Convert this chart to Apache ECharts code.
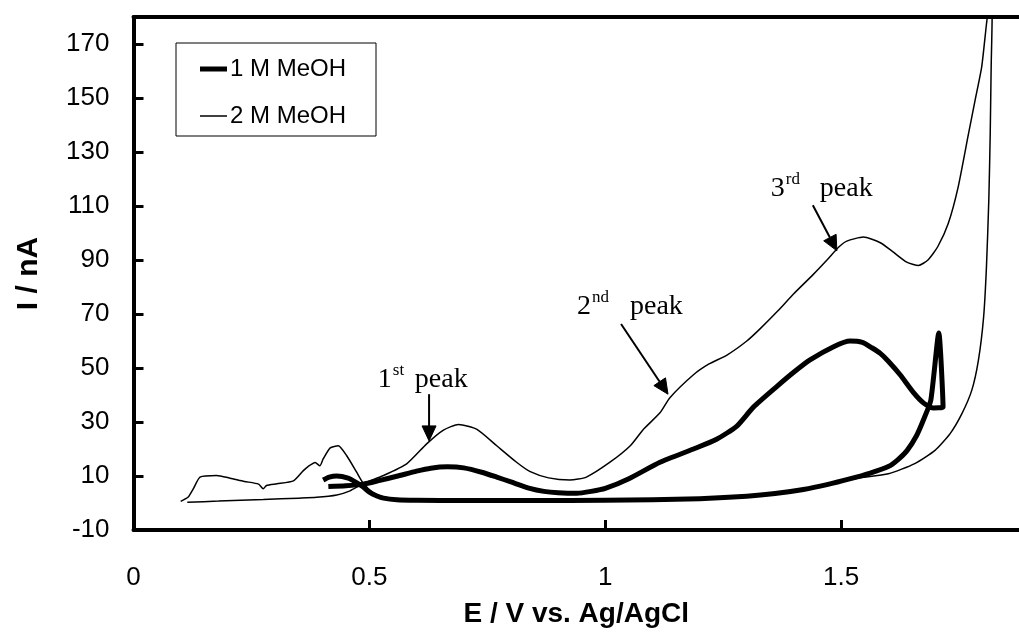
<!DOCTYPE html>
<html><head><meta charset="utf-8">
<script src="https://cdn.jsdelivr.net/npm/echarts@6/dist/echarts.min.js"></script>
<style>html,body{margin:0;padding:0;background:#fff}#c{width:1019px;height:633px}</style>
</head><body><div id="c"></div>
<script>
// ---- data ----
const xTicks = [0, 0.5, 1, 1.5];
const yTicks = [-10, 10, 30, 50, 70, 90, 110, 130, 150, 170];
const seriesNames = ['1 M MeOH', '2 M MeOH'];

// 1 M MeOH (thick)
const oneM_E = [0.413,0.45,0.487,0.52,0.558,0.60,0.63,0.665,0.70,0.74,0.77,0.80,0.84,0.87,0.90,0.94,0.97,1.0,1.05,1.116,1.187,1.236,1.279,1.314,1.364,1.40,1.434,1.484,1.519,1.545,1.565,1.583,1.60,1.625,1.653,1.675,1.695,1.716,1.707,1.69,1.675,1.66,1.64,1.62,1.60,1.56,1.52,1.47,1.42,1.36,1.30,1.2,1.1,1.0,0.85,0.7,0.6,0.558,0.53,0.516,0.50,0.487,0.47,0.455,0.431,0.415,0.402];
const oneM_I = [6.1,6.4,7.0,8.3,9.9,11.8,12.9,13.4,13.0,11.3,9.6,7.8,5.4,4.3,3.8,3.6,4.3,5.4,9.0,15.1,20.0,23.6,28.5,35.5,43.2,48.5,53.0,57.9,60.0,59.5,57.5,55.4,52.5,47.5,41.0,37.0,35.2,35.5,63,38,31,25,19.5,16,13.5,11,9,6.8,5,3.5,2.5,1.6,1.2,1.0,0.9,0.9,1.0,1.2,1.8,2.6,4.0,5.9,7.8,9.2,10.0,9.6,8.5];

// 2 M MeOH (thin)
const twoM_E = [0.114,0.18,0.275,0.35,0.388,0.431,0.459,0.487,0.53,0.579,0.622,0.657,0.689,0.728,0.77,0.812,0.841,0.88,0.925,0.96,1.01,1.053,1.081,1.116,1.137,1.187,1.22,1.258,1.30,1.328,1.365,1.399,1.44,1.47,1.495,1.512,1.547,1.583,1.61,1.639,1.664,1.684,1.705,1.727,1.748,1.770,1.784,1.798,1.809,1.815,
  1.820,1.818,1.816,1.813,1.808,1.802,1.791,1.777,1.756,1.731,1.699,1.656,1.60,1.534,1.48,1.42,1.35,1.25,1.1,0.9,0.7,0.6,0.55,0.525,0.508,0.487,0.473,0.452,0.434,0.417,0.402,0.395,0.385,0.37,0.36,0.339,0.304,0.282,0.275,0.265,0.235,0.205,0.176,0.141,0.127,0.116,0.100];
const twoM_I = [0.3,0.7,1.3,1.8,2.1,3.0,4.5,7.2,10.2,14.5,22.0,27.0,29.1,27.3,21.2,15.1,11.6,9.3,8.5,9.6,15.1,21.2,27.3,33.4,39.0,47.5,51.5,54.8,60.0,64.5,71.0,77.4,84.5,90.0,94.8,97.0,98.5,96.4,93.0,89.2,88.0,90.0,95.0,103.5,117,136.8,149.2,161.6,178.8,185,
  179.5,161.6,136.8,112.2,87.4,68.9,52.9,41.8,33.1,25.7,19.5,14.6,10.8,9.2,7.3,5.3,3.5,2.0,1.2,0.9,0.9,1.1,1.6,2.5,3.8,7.3,11.4,17.5,21.2,20.4,16.3,13.8,15.0,13.5,12.0,8.2,7.1,6.5,5.3,7.0,8.0,9.2,10.2,9.6,5.3,2.2,0.6];

// annotations (data coordinates)
const peakNum = ['1', '2', '3'];
const peakSup = ['st', 'nd', 'rd'];
const peakWord = 'peak';
const peakLabelPos = [[0.518, 42.5], [0.940, 69.6], [1.351, 113.3]];
const arrowTail = [[0.6265, 40.3], [1.0335, 66.3], [1.440, 110.3]];
const arrowTip  = [[0.6265, 23.0], [1.133, 40.3], [1.491, 93.4]];

// ---- chart ----
const zip = (a, b) => a.map((v, i) => [v, b[i]]);
const chart = echarts.init(document.getElementById('c'), null, {renderer: 'canvas'});
const SANS = '"Liberation Sans", Arial, sans-serif';
const SERIF = '"Liberation Serif", "Times New Roman", serif';

const axisLbl = {color: '#000', fontFamily: SANS, fontSize: 26};
chart.setOption({
  animation: false,
  backgroundColor: '#fff',
  grid: {left: 133.5, right: 0, top: 17, bottom: 98, containLabel: false},
  xAxis: [{
    type: 'value', min: 0, max: 1.877,
    name: 'E / V vs. Ag/AgCl', nameLocation: 'middle', nameGap: 70,
    nameTextStyle: {color: '#000', fontFamily: SANS, fontSize: 28, fontWeight: 'bold'},
    axisLine: {onZero: false, lineStyle: {color: '#000', width: 4}},
    axisTick: {inside: true, length: 10, lineStyle: {color: '#000', width: 3}, customValues: xTicks},
    axisLabel: Object.assign({margin: 35, customValues: xTicks}, axisLbl),
    splitLine: {show: false}
  }, {
    type: 'value', position: 'top', min: 0, max: 1.877,
    axisLine: {onZero: false, lineStyle: {color: '#000', width: 4}},
    axisTick: {show: false}, axisLabel: {show: false}, splitLine: {show: false}
  }],
  yAxis: {
    type: 'value', min: -10, max: 180,
    name: 'I / nA', nameLocation: 'middle', nameGap: 90,
    nameTextStyle: {color: '#000', fontFamily: SANS, fontSize: 30, fontWeight: 'bold'},
    axisLine: {onZero: false, lineStyle: {color: '#000', width: 4}},
    axisTick: {inside: true, length: 10, lineStyle: {color: '#000', width: 3}, customValues: yTicks},
    axisLabel: Object.assign({margin: 24, customValues: yTicks}, axisLbl),
    splitLine: {show: false}
  },
  legend: [{
    data: [seriesNames[0]], left: 195, top: 52, icon: 'rect', itemWidth: 27, itemHeight: 5,
    itemGap: 0, selectedMode: false, itemStyle: {color: '#000'},
    textStyle: {color: '#000', fontFamily: SANS, fontSize: 24, padding: [0, 0, 0, -2]}
  }, {
    data: [seriesNames[1]], left: 195, top: 99, icon: 'rect', itemWidth: 27, itemHeight: 1.5,
    itemGap: 0, selectedMode: false, itemStyle: {color: '#000'},
    textStyle: {color: '#000', fontFamily: SANS, fontSize: 24, padding: [0, 0, 0, -2]}
  }],
  series: [{
    name: seriesNames[0], type: 'line', data: zip(oneM_E, oneM_I),
    showSymbol: false, symbol: 'none', smooth: 0.2, color: '#000',
    lineStyle: {color: '#000', width: 5, join: 'round'}, silent: true
  }, {
    name: seriesNames[1], type: 'line', data: zip(twoM_E, twoM_I),
    showSymbol: false, symbol: 'none', smooth: 0.2, color: '#000',
    lineStyle: {color: '#000', width: 1.5}, silent: true
  }]
});

// annotations + legend frame
const g = [];
g.push({type: 'rect', shape: {x: 176, y: 43, width: 200, height: 93},
  style: {fill: 'none', stroke: '#000', lineWidth: 1}, silent: true});
const wordOffset = [37, 53, 49];
peakNum.forEach((n, i) => {
  const p = chart.convertToPixel({gridIndex: 0}, peakLabelPos[i]);
  const base = p[1];
  g.push({type: 'text', x: p[0], y: base - 8.5, silent: true,
    style: {text: n, font: '28px ' + SERIF, fill: '#000', align: 'left', verticalAlign: 'middle'}});
  g.push({type: 'text', x: p[0] + 15, y: base - 13 - 5, silent: true,
    style: {text: peakSup[i], font: '17px ' + SERIF, fill: '#000', align: 'left', verticalAlign: 'middle'}});
  g.push({type: 'text', x: p[0] + wordOffset[i], y: base - 8.5, silent: true,
    style: {text: peakWord, font: '28px ' + SERIF, fill: '#000', align: 'left', verticalAlign: 'middle'}});
  const a = chart.convertToPixel({gridIndex: 0}, arrowTail[i]);
  const b = chart.convertToPixel({gridIndex: 0}, arrowTip[i]);
  const dx = b[0] - a[0], dy = b[1] - a[1], L = Math.hypot(dx, dy);
  const ux = dx / L, uy = dy / L, hl = 15, hw = 7;
  const bx = b[0] - ux * hl, by = b[1] - uy * hl;
  g.push({type: 'line', silent: true, shape: {x1: a[0], y1: a[1], x2: bx, y2: by},
    style: {stroke: '#000', lineWidth: 2}});
  g.push({type: 'polygon', silent: true,
    shape: {points: [[b[0], b[1]], [bx - uy * hw, by + ux * hw], [bx + uy * hw, by - ux * hw]]},
    style: {fill: '#000', stroke: '#000', lineWidth: 1}});
});
chart.setOption({graphic: g});
</script></body></html>
